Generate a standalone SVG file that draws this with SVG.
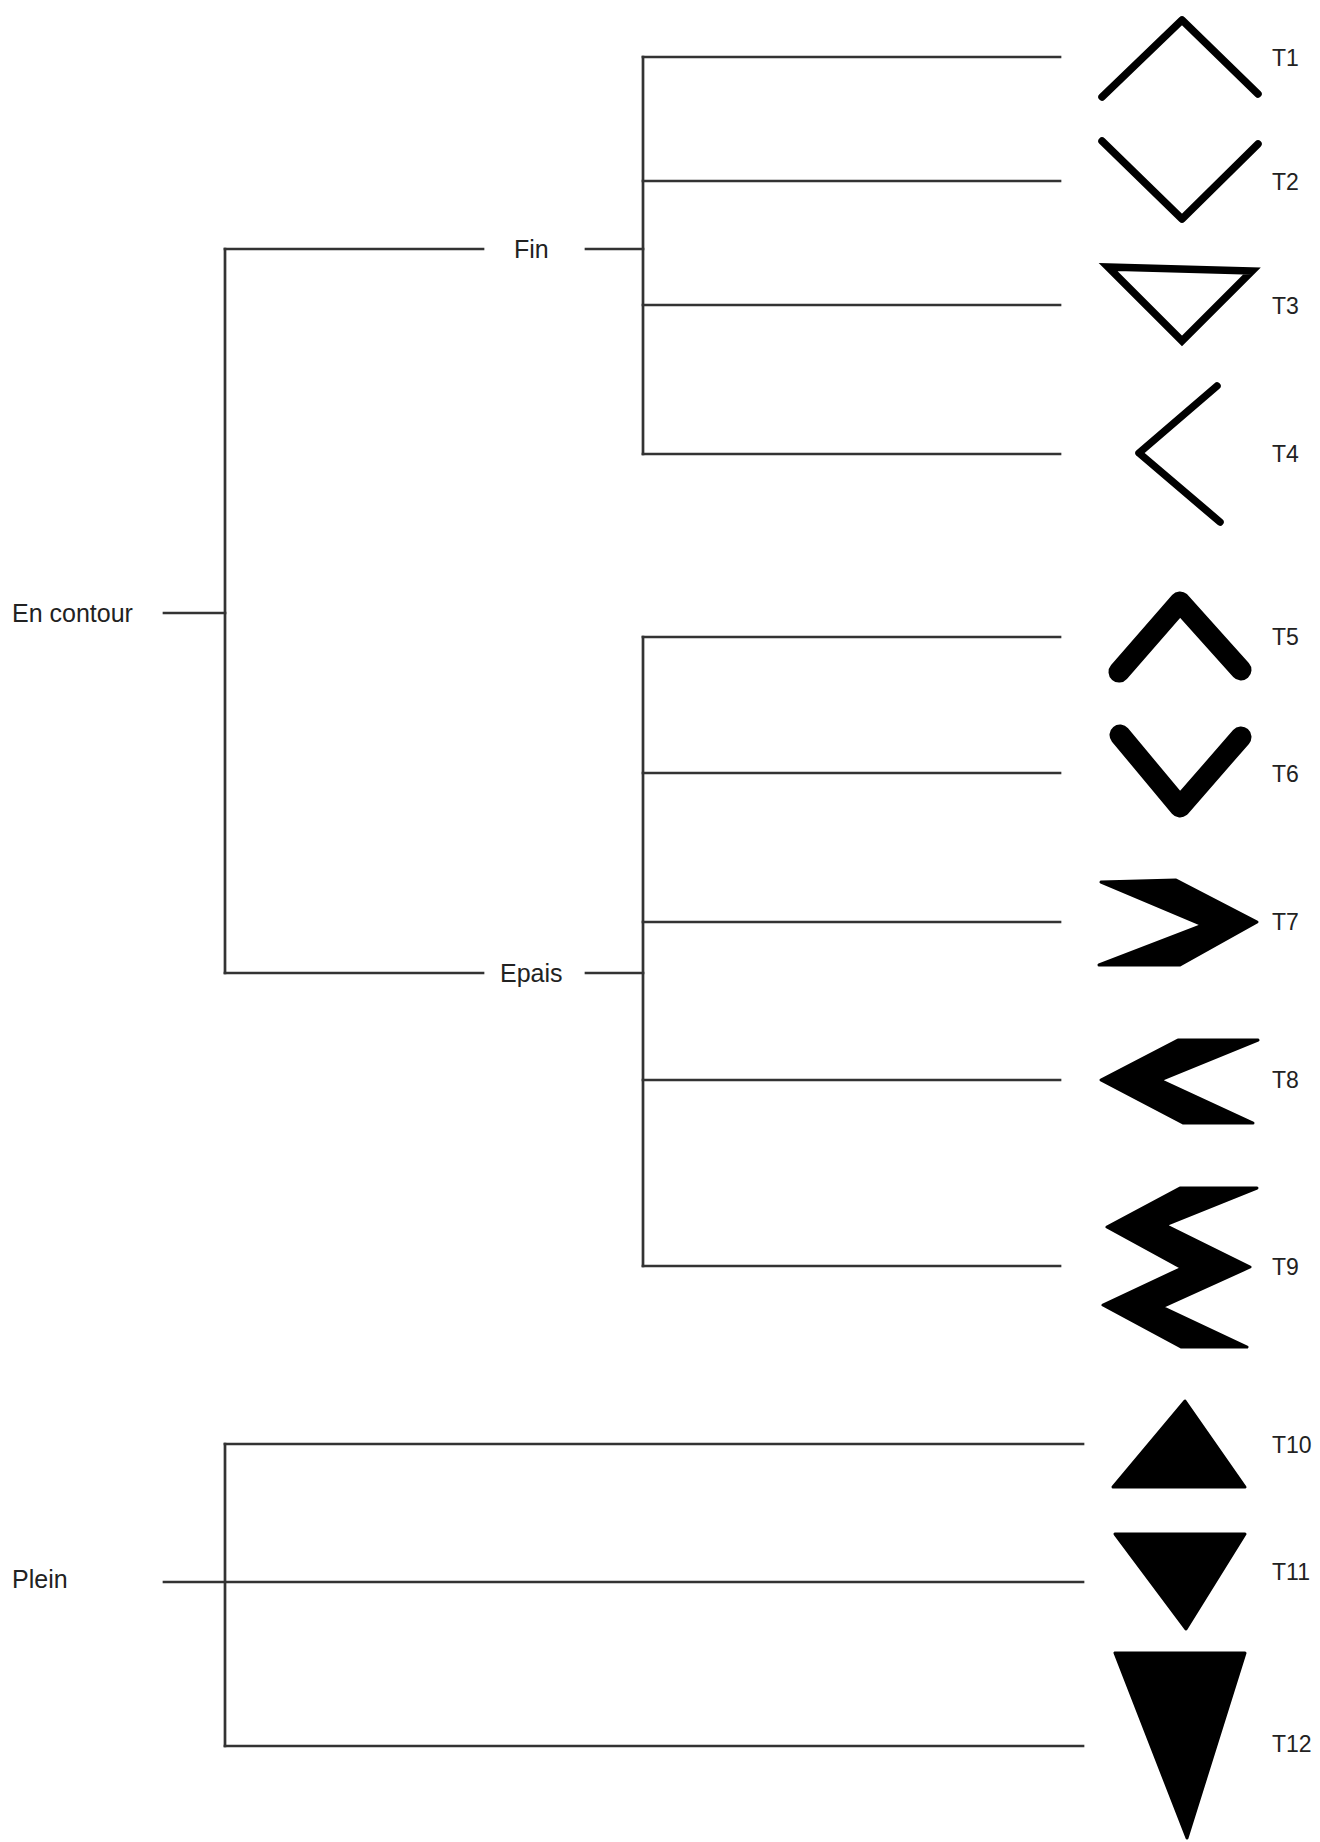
<svg xmlns="http://www.w3.org/2000/svg" width="1320" height="1842" viewBox="0 0 1320 1842">
<style>
.bg{fill:#ffffff}
.c{fill:none;stroke:#333333;stroke-width:2.7;stroke-linecap:square}
.lbl{font-family:"Liberation Sans",Arial,sans-serif;font-size:25px;fill:#222222}
.tl{font-family:"Liberation Sans",Arial,sans-serif;font-size:23px;fill:#222222}
.thin{fill:none;stroke:#000;stroke-width:7.5;stroke-linecap:round;stroke-linejoin:round}
.tri{fill:none;stroke:#000;stroke-width:7.5;stroke-linejoin:miter}
.thick{fill:none;stroke:#000;stroke-width:21;stroke-linecap:round;stroke-linejoin:round}
.solid{fill:#000;stroke:#000;stroke-width:3;stroke-linejoin:round}
</style>
<rect class="bg" x="0" y="0" width="1320" height="1842"/>
<g id="connectors">
  <path class="c" d="M164,613 H225"/>
  <path class="c" d="M225,249 V973"/>
  <path class="c" d="M225,249 H483"/>
  <path class="c" d="M225,973 H483"/>
  <path class="c" d="M586,249 H643"/>
  <path class="c" d="M643,57 V454"/>
  <path class="c" d="M643,57 H1060"/>
  <path class="c" d="M643,181 H1060"/>
  <path class="c" d="M643,305 H1060"/>
  <path class="c" d="M643,454 H1060"/>
  <path class="c" d="M586,973 H643"/>
  <path class="c" d="M643,637 V1266"/>
  <path class="c" d="M643,637 H1060"/>
  <path class="c" d="M643,773 H1060"/>
  <path class="c" d="M643,922 H1060"/>
  <path class="c" d="M643,1080 H1060"/>
  <path class="c" d="M643,1266 H1060"/>
  <path class="c" d="M164,1582 H1083"/>
  <path class="c" d="M225,1444 V1746"/>
  <path class="c" d="M225,1444 H1083"/>
  <path class="c" d="M225,1746 H1083"/>
</g>
<g id="node-en-contour"><text class="lbl" x="12" y="622">En contour</text></g>
<g id="node-fin"><text class="lbl" x="514" y="258">Fin</text></g>
<g id="node-epais"><text class="lbl" x="500" y="982">Epais</text></g>
<g id="node-plein"><text class="lbl" x="12" y="1588">Plein</text></g>
<g id="node-t1">
  <polyline class="thin" points="1102,97 1182,20 1258,94"/>
  <text class="tl" x="1272" y="66">T1</text>
</g>
<g id="node-t2">
  <polyline class="thin" points="1102,141 1182,219 1258,144"/>
  <text class="tl" x="1272" y="190">T2</text>
</g>
<g id="node-t3">
  <polygon class="tri" points="1108,267 1252,271 1182,341"/>
  <text class="tl" x="1272" y="314">T3</text>
</g>
<g id="node-t4">
  <polyline class="thin" points="1217,386 1139,453 1220,522"/>
  <text class="tl" x="1272" y="462">T4</text>
</g>
<g id="node-t5">
  <polyline class="thick" points="1119,672 1180,602 1241,670"/>
  <text class="tl" x="1272" y="645">T5</text>
</g>
<g id="node-t6">
  <polyline class="thick" points="1120,735 1180,807 1241,737"/>
  <text class="tl" x="1272" y="782">T6</text>
</g>
<g id="node-t7">
  <polygon class="solid" points="1101,882 1176,880 1257,922 1180,965 1099,965 1203,925"/>
  <text class="tl" x="1272" y="930">T7</text>
</g>
<g id="node-t8">
  <polygon class="solid" points="1258,1040 1178,1040 1101,1080 1183,1123 1253,1123 1160,1080"/>
  <text class="tl" x="1272" y="1088">T8</text>
</g>
<g id="node-t9">
  <polygon class="solid" points="1257,1188 1165,1225 1250,1267 1162,1307 1247,1347 1181,1347 1103,1305 1182,1268 1107,1227 1180,1188"/>
  <text class="tl" x="1272" y="1275">T9</text>
</g>
<g id="node-t10">
  <polygon class="solid" points="1185,1401 1245,1487 1113,1487"/>
  <text class="tl" x="1272" y="1453">T10</text>
</g>
<g id="node-t11">
  <polygon class="solid" points="1115,1534 1245,1534 1186,1629"/>
  <text class="tl" x="1272" y="1580">T11</text>
</g>
<g id="node-t12">
  <polygon class="solid" points="1115,1653 1245,1653 1187,1838"/>
  <text class="tl" x="1272" y="1752">T12</text>
</g>
</svg>
